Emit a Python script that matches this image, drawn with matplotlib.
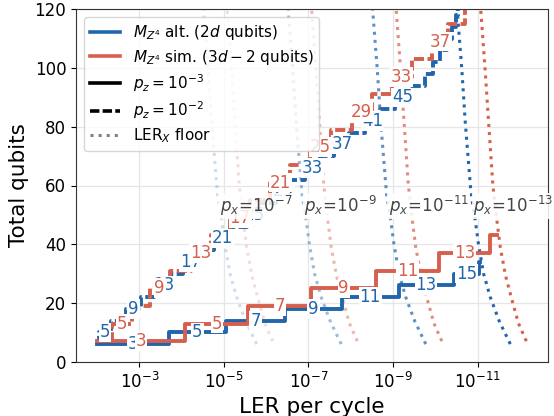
import matplotlib
matplotlib.use("Agg")
import numpy as np
import matplotlib.pyplot as plt
from matplotlib.lines import Line2D
from matplotlib.ticker import NullLocator, FixedLocator, LogFormatterSciNotation

BLUE = "#2166ac"
RED = "#d6604d"

LER_START = 1e-2

# ---- p_z = 1e-3 (solid) ----
alt_pz3_d = [3, 5, 7, 9, 11, 13, 15, 17]
alt_pz3_qubits = [6, 10, 14, 18, 22, 26, 30, 34]
alt_pz3_ler = [1.98e-4, 9.0e-6, 3.56e-7, 1.62e-8, 7.41e-10, 3.70e-11, 9.1e-12, 8.9e-12]
alt_pz3_labeled = [3, 5, 7, 9, 11, 13, 15]

sim_pz3_d = [3, 5, 7, 9, 11, 13, 15]
sim_pz3_qubits = [7, 13, 19, 25, 31, 37, 43]
sim_pz3_ler = [8.28e-5, 2.63e-6, 8.63e-8, 2.50e-9, 8.38e-11, 5.01e-12, 3.5e-12]
sim_pz3_labeled = [3, 5, 7, 9, 11, 13]

# ---- p_z = 1e-2 (dashed) ----
alt_pz2_d = [3, 5, 7, 9, 11, 13, 15, 17, 19, 21, 23, 25, 27, 29, 31, 33, 35, 37, 39,
             41, 43, 45, 47, 49, 51, 53, 55, 57, 59, 61]
alt_pz2_qubits = [6, 10, 14, 18, 22, 26, 30, 34, 38, 42, 46, 50, 54, 58, 62, 66, 70, 74,
                  78, 82, 86, 90, 94, 98, 102, 106, 110, 114, 118, 122]
alt_pz2_ler = [9.1e-3, 4.68e-3, 2.10e-3, 9.12e-4, 3.81e-4, 1.78e-4, 9.25e-5, 4.15e-5,
               1.71e-5, 7.13e-6, 2.87e-6, 1.25e-6, 5.81e-7, 2.64e-7, 1.18e-7, 5.35e-8,
               2.43e-8, 1.07e-8, 4.62e-9, 2.04e-9, 9.20e-10, 3.92e-10, 1.73e-10,
               1.12e-10, 7.64e-11, 5.21e-11, 3.97e-11, 3.28e-11, 2.94e-11, 2.71e-11]
alt_pz2_labeled = [5, 9, 13, 17, 21, 25, 29, 33, 37, 41, 45]

sim_pz2_d = [3, 5, 7, 9, 11, 13, 15, 17, 19, 21, 23, 25, 27, 29, 31, 33, 35, 37, 39, 41]
sim_pz2_qubits = [7, 13, 19, 25, 31, 37, 43, 49, 55, 61, 67, 73, 79, 85, 91, 97, 103,
                  109, 115, 121]
sim_pz2_ler = [4.43e-3, 1.49e-3, 5.74e-4, 1.93e-4, 6.14e-5, 2.04e-5, 7.13e-6, 2.39e-6,
               8.05e-7, 2.71e-7, 8.97e-8, 2.93e-8, 9.59e-9, 3.16e-9, 1.06e-9, 3.65e-10,
               1.18e-10, 4.94e-11, 1.95e-11, 1.85e-11]
sim_pz2_labeled = [5, 9, 13, 17, 21, 25, 29, 33, 37]

# ---- LER_X floor (LER / p_x as a function of total qubits) ----
px_values = [1e-7, 1e-9, 1e-11, 1e-13]
px_labels = [r"$p_x\!=\!10^{-7}$", r"$p_x\!=\!10^{-9}$", r"$p_x\!=\!10^{-11}$", r"$p_x\!=\!10^{-13}$"]
px_alpha = [0.22, 0.45, 0.72, 1.0]
floor_alt_qubits = [6, 14, 22, 30, 40, 48, 57, 81, 99, 119, 124]
floor_alt_coef = [16.8, 31, 50, 72, 95, 113, 142, 194, 234, 300, 312]
floor_sim_qubits = [7, 13, 21, 29, 39, 48, 60, 82, 99, 119, 124]
floor_sim_coef = [7.0, 10.7, 15.3, 21.5, 29.0, 34.8, 43.3, 55.0, 65.8, 83.2, 86.0]

DASH = (0, (2.6, 0.9))
LW = 2.8

fig = plt.figure(figsize=(5.54, 4.16), dpi=100)
ax = fig.add_axes([76 / 554, 1 - 361.7 / 416, (547.7 - 76) / 554, (361.7 - 9.3) / 416])
ax.set_xscale("log")

# floors
for px, a in zip(px_values, px_alpha):
    ax.plot(np.array(floor_alt_coef) * px, floor_alt_qubits, ls=":", lw=2.2,
            color=BLUE, alpha=a, zorder=1.5)
    ax.plot(np.array(floor_sim_coef) * px, floor_sim_qubits, ls=":", lw=2.2,
            color=RED, alpha=a, zorder=1.5)


def draw_steps(d, q, ler, labeled, color, ls):
    xs = [LER_START] + list(ler)
    ys = list(q) + [q[-1]]
    ax.plot(xs, ys, drawstyle="steps-post", color=color, ls=ls, lw=LW, zorder=2)
    for i, di in enumerate(d):
        if di in labeled:
            xm = np.sqrt(xs[i] * xs[i + 1])
            ax.text(xm, q[i], str(di), color=color, fontsize=12, ha="center",
                    va="center", zorder=3,
                    bbox=dict(facecolor="white", edgecolor="none", pad=0.6))


draw_steps(alt_pz3_d, alt_pz3_qubits, alt_pz3_ler, alt_pz3_labeled, BLUE, "-")
draw_steps(alt_pz2_d, alt_pz2_qubits, alt_pz2_ler, alt_pz2_labeled, BLUE, DASH)
draw_steps(sim_pz3_d, sim_pz3_qubits, sim_pz3_ler, sim_pz3_labeled, RED, "-")
draw_steps(sim_pz2_d, sim_pz2_qubits, sim_pz2_ler, sim_pz2_labeled, RED, DASH)

for px, lab in zip(px_values, px_labels):
    ax.text(px * 10 ** 2.1, 53, lab, color="#444444", fontsize=12, ha="left",
            va="center", zorder=4,
            bbox=dict(facecolor="white", edgecolor="none", alpha=0.85, pad=1.0))

ax.set_xlim(10 ** -1.5, 10 ** -12.66)
ax.set_ylim(0, 120)
ax.xaxis.set_major_locator(FixedLocator([1e-3, 1e-5, 1e-7, 1e-9, 1e-11]))
ax.xaxis.set_major_formatter(LogFormatterSciNotation())
ax.xaxis.set_minor_locator(NullLocator())
ax.set_yticks([0, 20, 40, 60, 80, 100, 120])
ax.tick_params(labelsize=12)
ax.grid(True, color="#e6e6e6", lw=0.9, zorder=0)
ax.set_axisbelow(True)
for s in ax.spines.values():
    s.set_color("#333333")
ax.set_xlabel("LER per cycle", fontsize=15.5)
ax.set_ylabel("Total qubits", fontsize=15.5)

handles = [
    Line2D([], [], color=BLUE, lw=2.6),
    Line2D([], [], color=RED, lw=2.6),
    Line2D([], [], color="black", lw=2.6),
    Line2D([], [], color="black", lw=2.6, ls=DASH),
    Line2D([], [], color="gray", lw=2.2, ls=":"),
]
labels = [
    r"$M_{Z^4}$ alt. ($2d$ qubits)",
    r"$M_{Z^4}$ sim. ($3d-2$ qubits)",
    r"$p_z=10^{-3}$",
    r"$p_z=10^{-2}$",
    r"LER$_X$ floor",
]
ax.legend(handles, labels, loc="upper left", fontsize=11, labelspacing=0.36)

fig.savefig("out.png", dpi=100)
